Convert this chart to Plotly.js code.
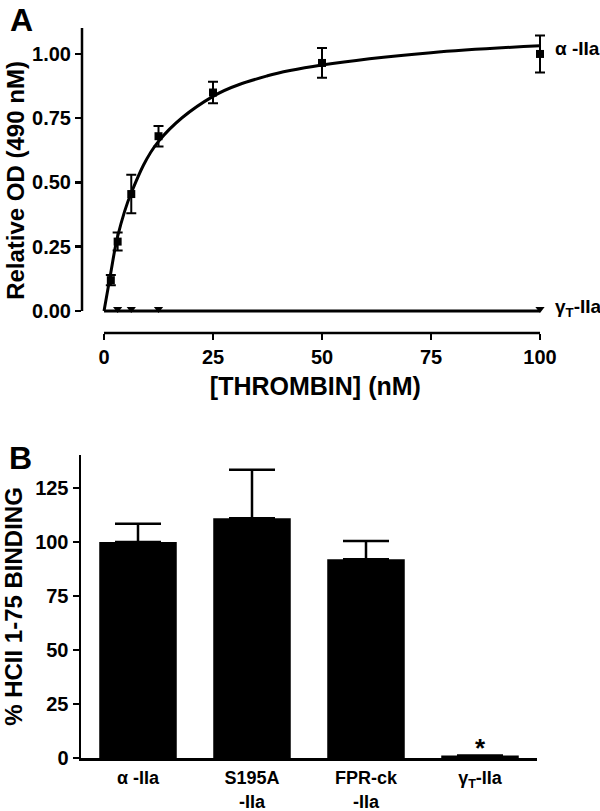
<!DOCTYPE html>
<html>
<head>
<meta charset="utf-8">
<script src="https://cdn.plot.ly/plotly-3.0.1.min.js"></script>
<style>html,body{margin:0;padding:0;background:#fff;}#chart{width:600px;height:811px;}</style>
</head>
<body>
<div id="chart"></div>
<script>
// ---- Panel A data ----
const conc = [1.5625, 3.125, 6.25, 12.5, 25, 50, 100];
const alphaOD = [0.12, 0.27, 0.455, 0.68, 0.85, 0.965, 1.0];
const alphaErr = [0.02, 0.035, 0.075, 0.04, 0.042, 0.058, 0.072];
const fitX = [0, 1.5625, 3.125, 6.25, 12.5, 25, 37.5, 50, 75, 100];
const fitY = [0, 0.15, 0.29, 0.46, 0.66, 0.835, 0.915, 0.957, 1.005, 1.032];
const gammaConc = [3.125, 6.25, 12.5, 100];
const gammaOD = [0.008, 0.008, 0.008, 0.008];
const gammaFitX = [0, 100];
const gammaFitY = [0, 0];
const xTicksA = [0, 25, 50, 75, 100];
const yTicksA = [0, 0.25, 0.5, 0.75, 1.0];
const yTickTextA = ['0.00', '0.25', '0.50', '0.75', '1.00'];

// ---- Panel B data ----
const categories = ['α -IIa', 'S195A<br>-IIa', 'FPR-ck<br>-IIa', 'γ<sub>T</sub>-IIa'];
const binding = [100, 111, 92, 1.2];
const bindingErr = [8.5, 22.5, 8.5, 0];
const yTicksB = [0, 25, 50, 75, 100, 125];

const FONT = 'Liberation Sans, Arial, Helvetica, sans-serif';
const bold = (s) => ({family: FONT, size: s, color: '#000', weight: 700});

const xRangeA = [-5.05, 102];
const yRangeA = [-0.0856, 1.101];
const pxPerUnitA = 458 / 105.05;
const xRightPx = 82 + (xRangeA[1] - xRangeA[0]) * pxPerUnitA;

const traces = [
  {x: fitX, y: fitY, type: 'scatter', mode: 'lines', line: {color: '#000', width: 3, shape: 'spline'},
   xaxis: 'x', yaxis: 'y', cliponaxis: false, hoverinfo: 'skip'},
  {x: conc, y: alphaOD, type: 'scatter', mode: 'markers',
   marker: {symbol: 'square', size: 8, color: '#000'},
   error_y: {type: 'data', array: alphaErr, visible: true, color: '#000', thickness: 2, width: 5},
   xaxis: 'x', yaxis: 'y', cliponaxis: false, name: 'α-IIa'},
  {x: gammaFitX, y: gammaFitY, type: 'scatter', mode: 'lines', line: {color: '#000', width: 3},
   xaxis: 'x', yaxis: 'y', cliponaxis: false, hoverinfo: 'skip'},
  {x: gammaConc, y: gammaOD, type: 'scatter', mode: 'markers',
   marker: {symbol: 'triangle-down', size: 8, color: '#000'},
   xaxis: 'x', yaxis: 'y', cliponaxis: false, name: 'γT-IIa'},
  {x: categories, y: binding, type: 'bar', width: 0.68,
   marker: {color: '#000', line: {color: '#000', width: 0}},
   error_y: {type: 'data', symmetric: false, array: bindingErr, arrayminus: bindingErr.map(() => 0),
             visible: true, color: '#000', thickness: 2.5, width: 23},
   xaxis: 'x2', yaxis: 'y2', cliponaxis: false}
];

const yZeroFrac = (0 - yRangeA[0]) / (yRangeA[1] - yRangeA[0]);
const xZeroFrac = (0 - xRangeA[0]) / (xRangeA[1] - xRangeA[0]);
const xEndFrac = (100 - xRangeA[0]) / (xRangeA[1] - xRangeA[0]);

const layout = {
  width: 600, height: 811,
  margin: {l: 0, r: 0, t: 0, b: 0},
  paper_bgcolor: '#fff', plot_bgcolor: 'rgba(0,0,0,0)',
  showlegend: false,
  font: bold(18),
  xaxis: {
    domain: [82/600, xRightPx/600], range: xRangeA, anchor: 'y',
    tickvals: xTicksA, ticks: 'outside', ticklen: 6, tickwidth: 2.5, tickcolor: '#000',
    showline: false, zeroline: false, showgrid: false,
    tickfont: bold(20),
    title: {text: '[THROMBIN] (nM)', font: bold(25), standoff: 10}
  },
  yaxis: {
    domain: [1 - 333/811, 1 - 28/811], range: yRangeA, anchor: 'x',
    tickvals: yTicksA, ticktext: yTickTextA, ticks: 'outside', ticklen: 6, tickwidth: 2.5, tickcolor: '#000',
    showline: false, zeroline: false, showgrid: false,
    tickfont: bold(20),
    title: {text: 'Relative OD (490 nM)', font: bold(24)}
  },
  xaxis2: {
    domain: [81/600, 537/600], range: [-0.5, 3.5], anchor: 'y2',
    type: 'category', tickmode: 'array', tickvals: categories, ticktext: categories,
    ticks: '', showline: true, linewidth: 2.5, linecolor: '#000',
    zeroline: false, showgrid: false, tickfont: bold(18), ticklabelstandoff: 2
  },
  yaxis2: {
    domain: [1 - 758/811, 1 - 455/811], range: [0, 140.3], anchor: 'x2',
    tickvals: yTicksB, ticks: 'outside', ticklen: 6, tickwidth: 2.5, tickcolor: '#000',
    showline: true, linewidth: 2.5, linecolor: '#000',
    zeroline: false, showgrid: false, tickfont: bold(20),
    title: {text: '% HCII 1-75 BINDING', font: bold(24)}
  },
  shapes: [
    {type: 'line', xref: 'x domain', yref: 'y domain', x0: 0, x1: 0, y0: yZeroFrac, y1: 1,
     line: {color: '#000', width: 2.5}},
    {type: 'line', xref: 'x domain', yref: 'y domain', x0: xZeroFrac, x1: xEndFrac, y0: 0, y1: 0,
     line: {color: '#000', width: 2.5}}
  ],
  annotations: [
    {text: 'A', xref: 'paper', yref: 'paper', x: 8/600, y: 1, xanchor: 'left', yanchor: 'top',
     showarrow: false, font: bold(32)},
    {text: 'B', xref: 'paper', yref: 'paper', x: 7/600, y: 1 - 438/811, xanchor: 'left', yanchor: 'top',
     showarrow: false, font: bold(32)},
    {text: 'α -IIa', xref: 'paper', yref: 'y', x: 553/600, y: 1.02, xanchor: 'left', yanchor: 'middle',
     showarrow: false, font: bold(19)},
    {text: 'γ<sub>T</sub>-IIa', xref: 'paper', yref: 'y', x: 553/600, y: 0.01, xanchor: 'left', yanchor: 'middle',
     showarrow: false, font: bold(19)},
    {text: '*', xref: 'x2', yref: 'y2', x: 3, y: binding[3], xanchor: 'center', yanchor: 'bottom',
     showarrow: false, font: bold(26), yshift: -10}
  ]
};

Plotly.newPlot('chart', traces, layout, {displayModeBar: false, staticPlot: true});
</script>
</body>
</html>
